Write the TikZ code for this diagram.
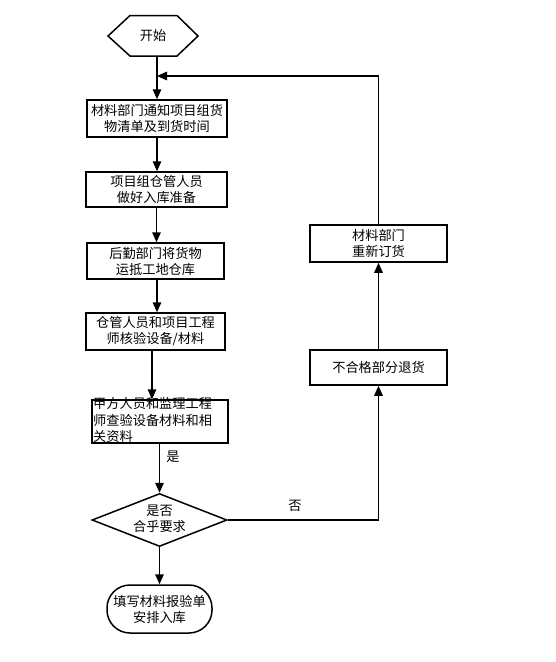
\documentclass[tikz,border=0pt]{standalone}
\usepackage{fontspec}
\setmainfont{Noto Sans CJK SC}
\usetikzlibrary{arrows.meta,shapes.geometric}
\begin{document}
\begin{tikzpicture}[x=1pt,y=-1pt,
  every node/.style={font=\fontsize{13.2}{16}\selectfont, inner sep=0pt, align=center},
  box/.style={draw, line width=1.5pt, rectangle},
  arr/.style={line width=1.5pt, -{Triangle[length=10pt,width=8.5pt]}},
  ln/.style={line width=1.5pt}]
\useasboundingbox (0,0) rectangle (555,662);
% start hexagon
\draw[ln] (108,36) -- (130,15.5) -- (177,15.5) -- (198,36) -- (177,56) -- (130,56) -- cycle;
\node (start) at (153,36) [minimum width=90pt, minimum height=40.5pt] {开始};
% main boxes
\node[box, minimum width=140pt, minimum height=37pt] (b1) at (157,118.5) {材料部门通知项目组货\\物清单及到货时间};
\node[box, minimum width=141pt, minimum height=35pt] (b2) at (156.5,189.5) {项目组仓管人员\\做好入库准备};
\node[box, minimum width=137pt, minimum height=36pt] (b3) at (155.5,261) {后勤部门将货物\\运抵工地仓库};
\node[box, minimum width=139pt, minimum height=37pt] (b4) at (155.5,331.5) {仓管人员和项目工程\\师核验设备/材料};
\node[box, minimum width=136pt, minimum height=43pt] (b5) at (160,421.5) {};
\node[anchor=west, align=left, font=\fontsize{13.2}{16.5}\selectfont] (b5t) at (93,420) {甲方人员和监理工程\\师查验设备材料和相\\关资料};
\node[draw, diamond, aspect=2.55, line width=1.5pt, minimum width=135pt, minimum height=53pt] (d) at (159.5,520) {};
\node (dt) at (159.5,519) {是否\\合乎要求};
\node[draw, line width=1.5pt, rounded corners=23pt, minimum width=105pt, minimum height=48pt] (e) at (159.5,609) {填写材料报验单\\安排入库};
% right branch
\node[box, minimum width=137pt, minimum height=35pt] (nb) at (378.5,367.5) {不合格部分退货};
\node[box, minimum width=137pt, minimum height=37pt] (re) at (378.5,243.5) {材料部门\\重新订货};
\coordinate (m) at (157,76);
% connectors
\draw[arr] (b1.north |- start.south) -- (b1.north);
\draw[arr] (b1.south) -- (b1.south |- b2.north);
\draw[arr] (b2.south) -- (b2.south |- b3.north);
\draw[arr] ([xshift=1.5pt]b3.south) -- ([xshift=1.5pt]b3.south |- b4.north);
\draw[arr] ([xshift=-3.5pt]b4.south) -- ([xshift=-3.5pt]b4.south |- b5.north);
\draw[arr] ([xshift=-0.5pt]b5.south) -- (d.north);
\draw[arr] (d.south) -- (e.north);
\draw[arr] (d.east) -| (nb.south);
\draw[arr] (nb.north) -- (re.south);
\draw[arr] (re.north) |- (m);
% labels
\node (yes) at (173,457) {是};
\node (no) at (295,506) {否};
\end{tikzpicture}
\end{document}
